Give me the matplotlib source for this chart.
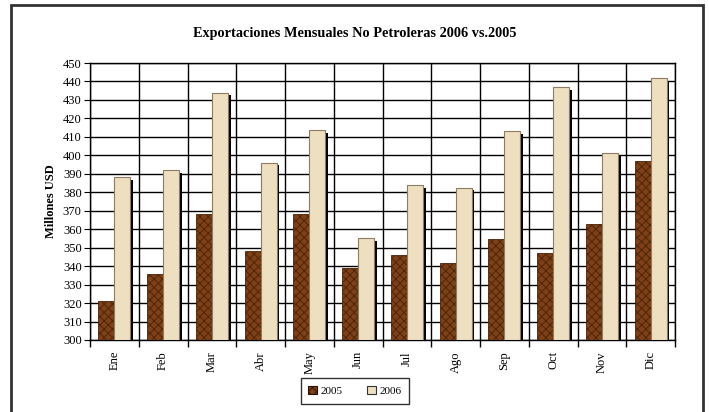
import numpy as np
import matplotlib.pyplot as plt
import matplotlib.patheffects as pe
from matplotlib.patches import Rectangle, Patch

plt.rcParams['font.family'] = ['Liberation Serif', 'DejaVu Serif']
plt.rcParams['hatch.linewidth'] = 0.6

# datos
meses = ['Ene', 'Feb', 'Mar', 'Abr', 'May', 'Jun', 'Jul', 'Ago', 'Sep', 'Oct', 'Nov', 'Dic']
v2005 = [321, 336, 368, 348, 368, 339, 346, 341.5, 354.5, 347, 363, 397]
v2006 = [388, 392, 434, 396, 413.5, 355, 384, 382.5, 413, 437, 401, 442]

c05 = '#7e4017'
c06 = '#eddfc0'

fig = plt.figure(figsize=(7.09, 4.12), dpi=100)
ax = fig.add_axes([90/709, 1-340/412, (675-90)/709, (340-63)/412])

x = np.arange(len(meses))
w = 0.33
sombra = [pe.SimplePatchShadow(offset=(2, -2), shadow_rgbFace='black', alpha=1), pe.Normal()]

b1 = ax.bar(x - w/2, np.array(v2005) - 300, w, bottom=300, color=c05, edgecolor='#4a2206',
            hatch='xxxx', linewidth=0.6, zorder=3)
b2 = ax.bar(x + w/2, np.array(v2006) - 300, w, bottom=300, color=c06, edgecolor='#8c7d62',
            linewidth=0.8, zorder=3)
for b in b2:
    b.set_path_effects(sombra)

ax.set_ylim(300, 450)
ax.set_xlim(-0.5, len(meses) - 0.5)
ax.set_yticks(np.arange(300, 451, 10))
ax.set_xticks(x)
ax.set_xticklabels(meses, rotation=90, fontsize=9)
ax.set_xticks(np.arange(-0.5, len(meses), 1), minor=True)
ax.tick_params(axis='x', which='major', length=0, pad=8)
ax.tick_params(axis='x', which='minor', length=5, color='black', width=1)
ax.tick_params(axis='y', length=4, labelsize=9, pad=2)

ax.grid(axis='y', color='black', linewidth=1, zorder=0)
ax.grid(axis='x', which='minor', color='black', linewidth=1, zorder=0)
for s in ax.spines.values():
    s.set_color('black')
    s.set_linewidth(1)

ax.set_ylabel('Millones USD', fontsize=9, fontweight='bold', labelpad=4)
fig.text(0.5, 1-33/412, 'Exportaciones Mensuales No Petroleras 2006 vs.2005',
         ha='center', va='center', fontsize=10.3, fontweight='bold')

h1 = Patch(facecolor=c05, edgecolor='#2a1200', hatch='xxxx', linewidth=0.8, label='2005')
h2 = Patch(facecolor=c06, edgecolor='#333333', linewidth=0.8, label='2006')
leg = fig.legend(handles=[h1, h2], loc='center', bbox_to_anchor=(355/709, 1-391/412), ncol=2,
                 fontsize=8, frameon=True, fancybox=False, edgecolor='black',
                 handlelength=0.8, handleheight=0.8, handletextpad=0.3, columnspacing=2.2,
                 borderpad=0.7)
leg.get_frame().set_linewidth(1)

# marco exterior
fig.patches.append(Rectangle((11/709, -0.05), (703-11)/709, 1.05 - 5/412, transform=fig.transFigure,
                             fill=False, edgecolor='#333333', linewidth=2))

fig.savefig('out.png', dpi=100)
